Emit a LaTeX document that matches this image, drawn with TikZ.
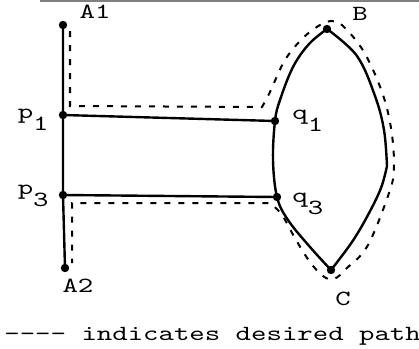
\documentclass[tikz,border=0pt]{standalone}
\usepackage{fontspec}
\usetikzlibrary{positioning}

% typed text: wide typewriter letters
\newcommand{\typed}[1]{\scalebox{1.36}[1]{\ttfamily #1}}
% lowered index, half a line down as on the typewriter
\newcommand{\lowr}[1]{\raisebox{-6pt}{#1}}

\begin{document}
\begin{tikzpicture}[
    x=0.5pt, y=-0.5pt,
    % Define line styles
    road/.style={line width=1.2pt},
    desired/.style={line width=1pt, dash pattern=on 3pt off 4pt},
    dot/.style={radius=2.1pt},
    lbl/.style={font=\fontsize{10.8}{13}\selectfont, inner sep=0pt}
]
\useasboundingbox (0,0) rectangle (419,349);

% scan edge at the top
\draw[gray, line width=0.8pt] (40,1) -- (419,1);

% Junction points
\coordinate (A1) at (63,25);
\coordinate (p1) at (63,115);
\coordinate (p3) at (63,195);
\coordinate (A2) at (65,268);
\coordinate (q1) at (275,121);
\coordinate (q3) at (277,197);
\coordinate (B)  at (327,29);
\coordinate (C)  at (331,270);
\coordinate (R)  at (387,166);

% Roads
\draw[road] (A1) -- (p1) -- (p3) -- (A2);
\draw[road] (p1) -- (q1);
\draw[road] (p3) -- (q3);

% Lens (left side through q1 and q3, right side with a corner)
\draw[road] plot[smooth, tension=0.6] coordinates
    {(B) (309,44) (293,67) (280,100) (q1) (273,160) (q3) (288,220) (310,247) (C)};
\draw[road] plot[smooth, tension=0.6] coordinates
    {(B) (357,56) (375,96) (384,130) (R)};
\draw[road] plot[smooth, tension=0.6] coordinates
    {(R) (381,188) (368,215) (352,242) (C)};

% Dots
\foreach \pt in {A1, p1, p3, A2, q1, q3, B, C} {
    \fill (\pt) circle[dot];
}

% Desired path (dashed)
\draw[desired] (70,31) -- (70,106) -- (262,107)
    -- plot[smooth, tension=0.6] coordinates
    {(262,107) (270,92) (285,60) (303,38) (320,25) (331,21) (343,26)
     (364,52) (382,92) (391,128) (394,165) (390,190) (368,245)
     (347,268) (334,279) (323,276) (310,262) (296,240) (282,215) (270,203)}
    -- (72,203) -- (72,263);

% Labels
\node[lbl, anchor=base] (lA1) at (95,18)  {\typed{A1}};
\node[lbl, anchor=base] (lB)  at (360,20) {\typed{B}};
\node[lbl, anchor=base] (lC)  at (343,305) {\typed{C}};
\node[lbl, anchor=base] (lA2) at (78,292) {\typed{A2}};
\node[lbl, anchor=base east] (lp1) at (49,118) {\typed{p\lowr{1}}};
\node[lbl, anchor=base east] (lp3) at (49,194) {\typed{p\lowr{3}}};
\node[lbl, anchor=base west] (lq1) at (292,119) {\typed{q\lowr{1}}};
\node[lbl, anchor=base west] (lq3) at (292,202) {\typed{q\lowr{3}}};

% Legend
\node[lbl, anchor=base west] (legend) at (4,340) {\typed{{-}{-}{-}{-} indicates desired path}};

\end{tikzpicture}
\end{document}
